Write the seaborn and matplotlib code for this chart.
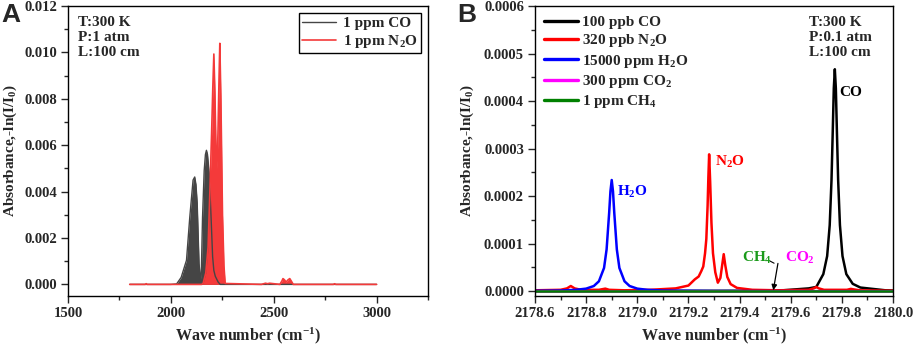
import numpy as np
import pandas as pd
import matplotlib
matplotlib.use("Agg")
import matplotlib.pyplot as plt
from matplotlib.ticker import MultipleLocator, FormatStrFormatter
import seaborn as sns

# ---- panel A : band envelopes, wavenumber (cm-1) / absorbance
coA_wn  = [1800, 2000, 2028, 2050, 2076, 2092, 2108, 2116, 2122, 2128, 2137, 2144, 2147,
           2154, 2162, 2168, 2173, 2178, 2186, 2195, 2203, 2209, 2216, 2230, 2240, 3000]
coA_abs = np.array([0, 0, 0.02, 0.3, 1.04, 2.9, 4.5, 4.63, 4.3, 3.5, 0.9, 0.2, 0.1,
                    2.9, 4.9, 5.6, 5.78, 5.6, 4.8, 3.0, 1.2, 0.6, 0.35, 0.1, 0.0, 0]) * 1e-3

n2oA_wn  = [1800, 1875, 1880, 1885, 2150, 2157, 2170, 2181, 2189, 2198, 2204, 2209, 2214,
            2219, 2224, 2229, 2234, 2238, 2243, 2251, 2258, 2264, 2440, 2460, 2470, 2480,
            2530, 2540, 2545, 2552, 2560, 2570, 2578, 2585, 2595, 2790, 2796, 2802, 3000]
n2oA_abs = np.array([0, 0, 0.03, 0, 0, 0.05, 0.5, 1.6, 3.8, 6.5, 8.5, 9.93, 8.3,
                     6.0, 5.0, 6.5, 8.8, 10.39, 8.1, 3.0, 0.8, 0.04, 0, 0.05, 0.03, 0.05,
                     0, 0.15, 0.25, 0.2, 0.1, 0.2, 0.25, 0.15, 0, 0, 0.03, 0, 0]) * 1e-3

# ---- panel B : single lines near 2179 cm-1
co_wn  = [2178.60, 2179.40, 2179.57, 2179.67, 2179.70, 2179.7275, 2179.7425, 2179.7525,
          2179.7595, 2179.7645, 2179.7685, 2179.7725, 2179.7765, 2179.7805, 2179.7855,
          2179.7925, 2179.8025, 2179.8175, 2179.8425, 2179.8725, 2179.97, 2180.00]
co_abs = np.array([0.0, 0.01, 0.02, 0.06, 0.09, 0.36, 0.74, 1.39, 2.335, 3.39, 4.27, 4.67,
                   4.27, 3.39, 2.335, 1.39, 0.74, 0.36, 0.156, 0.078, 0.02, 0.015]) * 1e-4

n2o_wn  = [2178.60, 2178.70, 2178.725, 2178.74, 2178.755, 2178.78, 2178.85, 2178.875,
           2178.89, 2178.95, 2179.05, 2179.15, 2179.20, 2179.225, 2179.24, 2179.25,
           2179.258, 2179.265, 2179.27, 2179.275, 2179.278, 2179.281, 2179.285, 2179.29,
           2179.296, 2179.305, 2179.315, 2179.325, 2179.332, 2179.338, 2179.344, 2179.352,
           2179.365, 2179.39, 2179.45, 2179.55, 2179.67, 2179.69, 2179.70, 2179.71, 2179.73,
           2179.82, 2179.835, 2179.845, 2179.87, 2180.00]
n2o_abs = np.array([0.02, 0.03, 0.06, 0.11, 0.06, 0.03, 0.03, 0.055,
                    0.03, 0.02, 0.03, 0.06, 0.12, 0.25, 0.31, 0.42,
                    0.52, 0.80, 1.10, 1.80, 2.40, 2.88, 2.30, 1.44,
                    0.80, 0.40, 0.18, 0.28, 0.55, 0.78, 0.55, 0.30,
                    0.15, 0.07, 0.03, 0.02, 0.03, 0.06, 0.09, 0.06, 0.03,
                    0.03, 0.05, 0.04, 0.02, 0.01]) * 1e-4

h2o_wn  = [2178.60, 2178.70, 2178.76, 2178.80, 2178.83, 2178.85, 2178.87, 2178.88,
           2178.89, 2178.895, 2178.90, 2178.905, 2178.91, 2178.92, 2178.93, 2178.95,
           2178.97, 2179.00, 2179.04, 2179.10, 2179.30, 2179.60, 2180.00]
h2o_abs = np.array([0.01, 0.015, 0.03, 0.055, 0.11, 0.21, 0.49, 0.88,
                    1.65, 2.10, 2.34, 2.10, 1.65, 0.88, 0.49, 0.21,
                    0.11, 0.055, 0.03, 0.015, 0.005, 0.002, 0.0]) * 1e-4

co2_wn  = [2178.60, 2179.60, 2180.00]
co2_abs = [0.0, 0.0, 0.0]
ch4_wn  = [2178.60, 2179.30, 2180.00]
ch4_abs = [0.0, 0.0, 0.0]

labels_B = ["100 ppb CO", "320 ppb N$_2$O", "15000 ppm H$_2$O", "300 ppm CO$_2$", "1 ppm CH$_4$"]
colors_B = ["black", "#ff0000", "#0000ff", "#ff00ff", "#008000"]

sns.set_style("ticks")
plt.rcParams['font.family'] = ['Liberation Serif', 'DejaVu Serif']
plt.rcParams['font.weight'] = 'bold'
plt.rcParams['axes.labelweight'] = 'bold'
plt.rcParams['mathtext.default'] = 'regular'
plt.rcParams['axes.linewidth'] = 1.0

fig = plt.figure(figsize=(9.13, 3.44), dpi=100)
axA = fig.add_axes([68/913, 1-296/344, 360/913, 290/344])
axB = fig.add_axes([535/913, 1-296/344, 358/913, 290/344])

# ---- A
grey = "#454545"
red = "#f43a3a"
axA.fill_between(coA_wn, 0, coA_abs, color=grey, lw=0)
sns.lineplot(x=coA_wn, y=coA_abs, ax=axA, color=grey, lw=1.0, label="1 ppm CO")
axA.fill_between(n2oA_wn, 0, n2oA_abs, color=red, lw=0)
sns.lineplot(x=n2oA_wn, y=n2oA_abs, ax=axA, color=red, lw=1.2, label="1 ppm N$_2$O")

axA.set_xlim(1500, 3250)
axA.set_ylim(-0.0005, 0.012)
axA.xaxis.set_major_locator(MultipleLocator(500))
axA.xaxis.set_minor_locator(MultipleLocator(250))
axA.yaxis.set_major_locator(MultipleLocator(0.002))
axA.yaxis.set_minor_locator(MultipleLocator(0.001))
axA.yaxis.set_major_formatter(FormatStrFormatter('%.3f'))
leg = axA.legend(loc='upper right', bbox_to_anchor=(0.98, 0.975), fontsize=11,
                 frameon=True, fancybox=False, edgecolor='black', framealpha=1,
                 handlelength=2.2, handletextpad=0.45, labelspacing=0.2, borderpad=0.2,
                 borderaxespad=0.0)
leg.get_frame().set_linewidth(1.0)
axA.text(0.028, 0.965, "T:300 K\nP:1 atm\nL:100 cm", transform=axA.transAxes,
         fontsize=11, fontweight='bold', va='top', ha='left', linespacing=1.2)

# ---- B
series_B = [(co_wn, co_abs), (n2o_wn, n2o_abs), (h2o_wn, h2o_abs), (co2_wn, co2_abs), (ch4_wn, ch4_abs)]
for (wn, ab), lab, col in zip(series_B, labels_B, colors_B):
    sns.lineplot(x=wn, y=ab, ax=axB, color=col, lw=1.8, label=lab)

axB.set_xlim(2178.6, 2180.0)
axB.set_ylim(-0.00001, 0.0006)
axB.xaxis.set_major_locator(MultipleLocator(0.2))
axB.xaxis.set_minor_locator(MultipleLocator(0.1))
axB.xaxis.set_major_formatter(FormatStrFormatter('%.1f'))
axB.yaxis.set_major_locator(MultipleLocator(0.0001))
axB.yaxis.set_minor_locator(MultipleLocator(0.00005))
axB.yaxis.set_major_formatter(FormatStrFormatter('%.4f'))
legB = axB.legend(loc='upper left', fontsize=11, frameon=False, handlelength=2.2,
                  handletextpad=0.3, labelspacing=0.22, borderaxespad=0.2)
for h in legB.legend_handles:
    h.set_linewidth(2.4)
axB.text(0.765, 0.965, "T:300 K\nP:0.1 atm\nL:100 cm", transform=axB.transAxes,
         fontsize=11, fontweight='bold', va='top', ha='left', linespacing=1.2)

axB.text(2179.835, 0.000418, "CO", color='black', fontsize=11, fontweight='bold', ha='center', va='center')
axB.text(2179.362, 0.000271, "N$_2$O", color='#ff0000', fontsize=11, fontweight='bold', ha='center', va='center')
axB.text(2178.98, 0.000208, "H$_2$O", color='#0000ff', fontsize=11, fontweight='bold', ha='center', va='center')
axB.text(2179.47, 0.000071, "CH$_4$", color='#1a9a1a', fontsize=11, fontweight='bold', ha='center', va='center')
axB.text(2179.635, 0.000071, "CO$_2$", color='#ff00ff', fontsize=11, fontweight='bold', ha='center', va='center')
axB.plot([2179.519, 2179.535], [0.0000635, 0.000059], color='black', lw=0.8)
axB.annotate('', xy=(2179.532, 0.000002), xytext=(2179.55, 0.0000585),
             arrowprops=dict(arrowstyle='-|>', color='black', lw=0.9, mutation_scale=8,
                             shrinkA=0, shrinkB=0))

for ax, ylab_x in ((axA, -0.135), (axB, -0.165)):
    for s in ax.spines.values():
        s.set_visible(True)
        s.set_color('black')
        s.set_linewidth(1.0)
    ax.tick_params(which='major', direction='out', length=5, width=1, labelsize=10.5, pad=3)
    ax.tick_params(which='minor', direction='out', length=3, width=1)
    for t in ax.get_xticklabels() + ax.get_yticklabels():
        t.set_fontweight('bold')
    ax.set_xlabel("Wave number (cm$^{-1}$)", fontsize=11.5, fontweight='bold')
    ax.set_ylabel("Absorbance,-ln(I/I$_0$)", fontsize=11, fontweight='bold')
    ax.xaxis.set_label_coords(0.5, -0.1)
    ax.yaxis.set_label_coords(ylab_x, 0.5)

fig.text(11/913, 1-15/344, "A", fontsize=19, fontweight='bold', family='Liberation Sans',
         ha='center', va='center')
fig.text(467/913, 1-15/344, "B", fontsize=19, fontweight='bold', family='Liberation Sans',
         ha='center', va='center')

fig.savefig("out.png", dpi=100)
